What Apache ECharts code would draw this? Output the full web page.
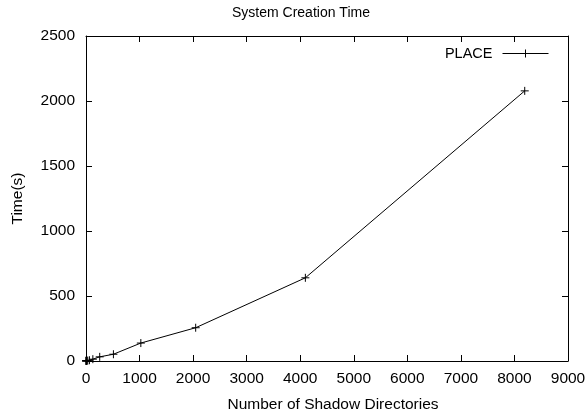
<!DOCTYPE html>
<html>
<head>
<meta charset="utf-8">
<script src="https://cdn.jsdelivr.net/npm/echarts@6/dist/echarts.min.js"></script>
<style>
  html, body { margin: 0; padding: 0; background: #fff; }
  #chart { width: 588px; height: 415px; }
</style>
</head>
<body>
<div id="chart"></div>
<script>
// shadow directory counts and creation times
var dirCounts = [1, 2, 4, 8, 16, 32, 64, 128, 256, 512, 1024, 2048, 4096, 8192];
var placeTimes = [1, 1, 1, 2, 2, 3, 6, 14, 32, 52, 138, 256, 640, 2078];

var font = 'Liberation Sans, Arial, sans-serif';
var plusSymbol = 'path://M0,5L10,5M5,0L5,10';

var myChart = echarts.init(document.getElementById('chart'));

var tickStyle = { show: true, inside: true, length: 6, lineStyle: { color: '#000', width: 1 } };
var lineStyle = { show: true, onZero: false, lineStyle: { color: '#000', width: 1 } };
var plain = function (v) { return String(v); };

var option = {
    animation: false,
    backgroundColor: '#fff',
    title: {
        text: 'System Creation Time',
        left: 227,
        top: 1,
        textStyle: { fontFamily: font, fontSize: 14, fontWeight: 'normal', color: '#000' }
    },
    legend: {
        right: 34,
        top: 41,
        align: 'right',
        itemWidth: 46,
        itemHeight: 10,
        textStyle: { fontFamily: font, fontSize: 14.5, color: '#000', padding: [0, 5, 0, 0] },
        lineStyle: { width: 1 },
        itemStyle: { borderWidth: 1 },
        data: ['PLACE']
    },
    grid: { left: 86, right: 20, top: 36, bottom: 54, outerBoundsMode: 'none', containLabel: false },
    xAxis: [{
        type: 'value',
        min: 0,
        max: 9000,
        interval: 1000,
        name: 'Number of Shadow Directories',
        nameLocation: 'middle',
        nameGap: 36,
        nameTextStyle: { fontFamily: font, fontSize: 15.5, color: '#000', padding: [0, 0, 0, 12] },
        axisLine: lineStyle,
        axisTick: tickStyle,
        axisLabel: { fontFamily: font, fontSize: 15.5, color: '#000', margin: 10, formatter: plain },
        splitLine: { show: false }
    }, {
        type: 'value',
        position: 'top',
        min: 0,
        max: 9000,
        interval: 1000,
        axisLine: lineStyle,
        axisTick: tickStyle,
        axisLabel: { show: false },
        splitLine: { show: false }
    }],
    yAxis: [{
        type: 'value',
        min: 0,
        max: 2500,
        interval: 500,
        name: 'Time(s)',
        nameLocation: 'middle',
        nameGap: 60,
        nameTextStyle: { fontFamily: font, fontSize: 15.5, color: '#000' },
        axisLine: lineStyle,
        axisTick: tickStyle,
        axisLabel: { fontFamily: font, fontSize: 15.5, color: '#000', margin: 11, formatter: plain },
        splitLine: { show: false }
    }, {
        type: 'value',
        position: 'right',
        min: 0,
        max: 2500,
        interval: 500,
        axisLine: lineStyle,
        axisTick: tickStyle,
        axisLabel: { show: false },
        splitLine: { show: false }
    }],
    series: [{
        name: 'PLACE',
        type: 'line',
        xAxisIndex: 0,
        yAxisIndex: 0,
        data: dirCounts.map(function (d, i) { return [d, placeTimes[i]]; }),
        symbol: plusSymbol,
        symbolSize: 8,
        showAllSymbol: true,
        lineStyle: { color: '#000', width: 1 },
        itemStyle: { color: '#000', borderColor: '#000', borderWidth: 1 }
    }]
};
myChart.setOption(option);
window.addEventListener('resize', function () {
    myChart.resize();
});
</script>
</body>
</html>
